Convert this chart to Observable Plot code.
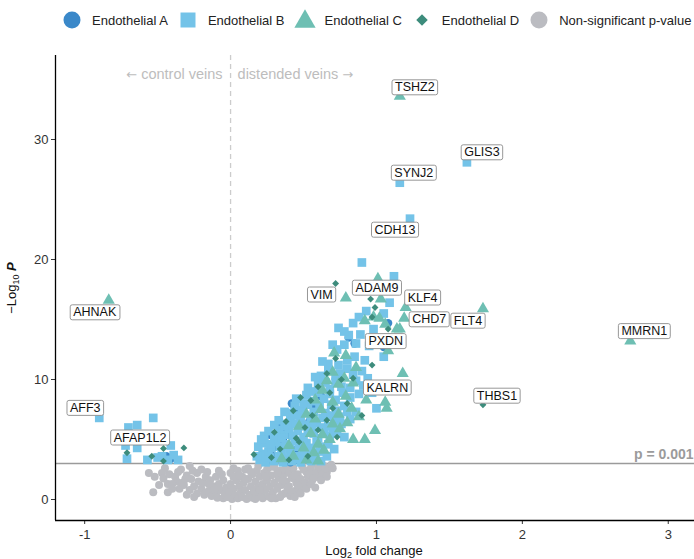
<!DOCTYPE html>
<html><head><meta charset="utf-8">
<script src="https://cdn.jsdelivr.net/npm/d3@7"></script>
<script src="https://cdn.jsdelivr.net/npm/@observablehq/plot@0.6"></script>
<style>
body{margin:0;background:#fff;font-family:"Liberation Sans",Arial,sans-serif;}
#legend{height:40px;display:flex;align-items:center;padding-left:61px;font-size:13px;color:#222;}
.item{display:flex;align-items:center;margin-right:9px;white-space:nowrap;}
.item svg{margin-right:9px;}
#chart svg{display:block;}
</style></head><body>
<div id="legend"></div>
<div id="chart"></div>
<script>
// ---------- data (log2 fold change, -log10 p) ----------
const seriesNames = ["Endothelial A","Endothelial B","Endothelial C","Endothelial D","Non-significant p-value"];
const pCutoff = 0.001;
const xTicks = [-1,0,1,2,3];
const yTicks = [0,10,20,30];

const endoA = [[-0.41,3.4],[-0.44,3.6],[0.25,3.2],[0.32,3.4],[0.41,3.1],[0.45,3.3],[0.3,4.4],[0.36,4.9],[0.44,4.1],
 [0.27,5.4],[0.4,5.4],[0.36,5.6],[0.33,6.4],[0.47,7.4],[0.54,6.5],[0.42,8.0],[0.6,9.9],[0.81,13.5],[0.85,13.0],
 [1.05,12.7],[1.08,14.7],[0.62,8.6],[0.5,4.5],[0.58,7.8],[0.29,3.6],[0.38,3.2]];

const endoB = [[-0.9,6.8],[-0.7,6.0],[-0.64,6.2],[-0.53,6.8],[-0.72,4.5],[-0.64,4.3],[-0.41,4.5],[-0.71,3.4],[-0.57,3.3],
 [-0.5,3.5],[-0.43,3.3],[-0.36,3.3],[-0.39,3.7],[-0.47,3.6],[-0.62,5.0],
 [0.2,3.3],[0.24,3.1],[0.27,3.5],[0.3,3.2],[0.33,3.6],[0.36,3.1],[0.39,3.4],[0.42,3.2],[0.45,3.6],[0.48,3.1],[0.51,3.4],
 [0.55,3.2],[0.58,3.5],[0.62,3.2],[0.22,3.8],[0.26,4.0],[0.35,3.9],[0.41,3.9],[0.5,3.8],
 [0.19,4.4],[0.23,4.7],[0.28,4.3],[0.31,4.8],[0.34,4.4],[0.38,4.6],[0.41,4.2],[0.44,4.9],[0.47,4.4],[0.52,4.7],[0.55,4.3],
 [0.59,4.8],[0.63,4.4],[0.67,4.6],[0.71,4.2],
 [0.23,5.3],[0.26,5.7],[0.3,5.2],[0.33,5.8],[0.37,5.4],[0.4,5.9],[0.43,5.3],[0.46,5.7],[0.5,5.2],[0.53,5.9],[0.57,5.5],
 [0.6,5.1],[0.64,5.7],[0.68,5.3],[0.73,5.6],[0.78,5.2],
 [0.3,6.2],[0.33,6.6],[0.37,6.1],[0.41,6.8],[0.44,6.3],[0.48,6.7],[0.52,6.2],[0.55,6.9],[0.59,6.4],[0.63,6.8],[0.67,6.1],
 [0.71,6.6],[0.76,6.3],[0.82,6.7],
 [0.37,7.3],[0.41,7.2],[0.44,7.8],[0.49,7.4],[0.53,7.9],[0.57,7.3],[0.61,7.7],[0.65,7.2],[0.69,7.9],[0.73,7.4],[0.78,7.8],
 [1.0,7.6],[0.86,7.3],
 [0.45,8.4],[0.52,8.7],[0.56,8.2],[0.6,8.9],[0.64,8.4],[0.68,8.8],[0.72,8.3],[0.77,8.9],[0.82,8.5],[0.88,8.8],[0.97,8.9],
 [0.53,9.3],[0.6,9.6],[0.65,9.75],[0.68,9.2],[0.72,9.8],[0.76,9.4],[0.82,9.3],[0.86,9.9],[0.91,9.5],
 [0.62,10.3],[0.67,10.8],[0.72,10.3],[0.75,10.5],[0.8,10.9],[0.84,10.4],[0.9,10.7],
 [0.67,11.3],[0.74,11.2],[0.8,11.6],[0.92,11.6],[1.05,11.9],[0.85,11.9],
 [0.73,12.5],[0.78,12.9],[0.86,13.0],[0.81,13.7],[0.89,13.75],[0.95,12.8],[0.74,14.3],[0.98,14.2],
 [0.84,14.7],[0.93,15.7],[1.09,16.4],[1.12,18.6],[0.9,19.75],[1.05,15.5],
 [0.27,4.6],[0.35,5.1],[0.46,3.4],[0.54,4.0],[0.61,4.0],[0.66,3.6],[0.49,6.1],[0.56,6.1],[0.62,6.0],[0.69,7.0],
 [0.58,10.2],[0.63,11.5],[0.7,12.9],[0.78,14.0],[0.88,15.2],[1.0,13.4],[0.94,10.1],[0.21,5.0],[0.18,3.6],[0.39,6.3],
 [0.5,8.0],[0.57,9.0],[0.46,7.0],[0.7,5.8],[0.75,6.9],[0.8,7.3],
 [1.62,28.1],[1.16,26.4],[1.23,23.4]];

const endoC = [[-0.835,16.6],[0.35,3.4],[0.43,3.6],[0.52,3.3],[0.6,3.2],[0.57,3.9],[0.64,4.1],[0.4,4.5],[0.5,4.3],[0.6,4.6],
 [0.68,5.0],[0.84,5.0],[0.92,5.0],[0.99,5.75],[0.55,5.5],[0.63,5.4],[0.75,5.9],[0.47,6.1],[0.58,6.7],[0.7,6.3],[0.8,6.4],
 [0.88,6.9],[0.52,7.1],[0.62,7.5],[0.74,7.1],[0.83,7.6],[1.06,8.1],[1.07,7.6],[0.58,8.3],[0.7,8.1],[0.79,8.6],[0.93,8.3],
 [0.63,9.1],[0.74,9.6],[0.84,9.7],[0.66,9.9],[0.7,10.6],[0.78,10.1],[0.86,11.0],[0.79,12.0],[0.71,12.2],[1.08,12.4],
 [1.18,10.5],[0.79,16.8],[1.01,18.4],[1.03,16.7],[1.2,16.0],[0.92,14.9],[0.98,15.2],[1.02,15.1],[1.19,15.1],[1.14,14.2],
 [1.16,14.2],[1.06,14.6],[1.16,33.6],[1.73,15.9],[2.74,13.2]];

const endoD = [[-0.71,3.9],[-0.54,3.6],[-0.46,4.25],[-0.32,4.3],[-0.46,3.2],
 [0.16,3.75],[0.28,3.5],[0.34,4.2],[0.4,3.3],[0.47,4.8],[0.53,3.6],[0.3,5.6],[0.45,5.1],[0.6,5.8],[0.38,6.5],[0.51,6.0],
 [0.66,6.6],[0.43,7.4],[0.56,7.0],[0.7,7.6],[0.48,8.5],[0.55,8.25],[0.68,8.9],[0.8,8.0],[0.6,9.4],[0.76,10.0],[0.66,10.5],
 [0.84,10.1],[0.72,11.75],[0.97,11.2],[1.08,14.2],[0.97,15.2],[0.99,16.0],[0.96,16.7],[0.72,18.0],[0.9,7.0],[0.73,5.2],
 [1.73,7.9]];

const nonSig = [[-0.56,2.2],[-0.53,0.6],[-0.47,2.2],[-0.46,1.75],[-0.43,1.3],[-0.43,0.6],[-0.42,2.1],[-0.38,1.9],[-0.37,1.5],
 [-0.35,0.9],[-0.33,1.4],[-0.32,1.2],[-0.3,2.0],[-0.28,2.8],[-0.28,0.8],[-0.27,1.7],[-0.25,1.1],[-0.23,2.2],[-0.23,0.5],
 [-0.22,1.5],[-0.2,0.9],[-0.19,1.4],[-0.18,0.4],[-0.17,1.9],[-0.15,0.7],[-0.14,1.6],[-0.13,0.3],[-0.12,1.1],[-0.1,1.9],
 [-0.1,0.5],[-0.09,0.15],[-0.08,1.3],[-0.07,0.8],[-0.05,0.1],[-0.05,1.6],[-0.04,0.4],[-0.03,1.0],[-0.02,0.2],[-0.01,0.6],
 [0,2.2],[0.0,1.3],[0.01,0.05],[0.02,2.6],[0.02,0.9],[0.03,0.35],[0.04,1.6],[0.05,2.4],[0.05,0.1],[0.06,1.1],[0.07,0.6],
 [0.08,1.9],[0.08,0.2],[0.09,1.4],[0.1,2.5],[0.1,0.8],[0.11,0.05],[0.12,1.7],[0.12,2.6],[0.13,0.4],[0.14,1.1],[0.15,2.1],
 [0.15,0.15],[0.16,0.7],[0.17,1.5],[0.18,2.4],[0.18,0.3],[0.19,2.8],[0.19,1.0],[0.2,1.9],[0.21,0.5],[0.22,1.3],[0.22,0.1],
 [0.23,2.2],[0.24,0.8],[0.25,2.5],[0.25,1.6],[0.26,0.25],[0.27,1.1],[0.28,2.0],[0.29,0.6],[0.3,2.7],[0.3,1.4],[0.31,0.1],
 [0.32,0.9],[0.33,1.8],[0.34,2.4],[0.35,0.4],[0.35,1.2],[0.36,2.0],[0.37,2.5],[0.37,0.5],[0.38,1.5],[0.39,0.8],[0.4,2.2],
 [0.4,1.1],[0.41,0.3],[0.42,1.8],[0.43,2.6],[0.44,0.7],[0.45,1.4],[0.46,2.1],[0.47,0.8],[0.48,1.7],[0.49,2.8],[0.5,1.1],
 [0.51,1.4],[0.52,2.3],[0.53,1.9],[0.55,2.6],[0.56,1.6],[0.58,2.2],[0.59,3.0],[0.6,1.9],[0.62,2.5],[0.64,2.8],[0.66,2.3],
 [0.69,2.9],[0.02,1.9],[0.06,2.0],[0.1,1.7],[0.14,2.3],[0.17,0.05],[0.2,0.8],[0.24,1.9],[0.27,2.7],[0.28,0.1],[0.32,2.2],
 [0.34,0.2],[0.36,1.6],[0.39,2.8],[0.42,0.6],[0.44,2.0],[0.46,1.2],[0.5,2.5],[0.54,2.1],[0.57,1.8],[0.6,2.7],[0.63,2.1],
 [0.65,2.6],[0.7,2.6],[0.48,0.5],[-0.06,2.1],[-0.11,0.9],[-0.15,1.3],[-0.2,2.5],[-0.26,2.4],[-0.31,1.7],[-0.34,2.5],
 [-0.4,1.3],[-0.49,1.2],[-0.52,1.9],[-0.45,2.6],[-0.4,0.9],[-0.36,2.3],[-0.3,0.4],[-0.25,0.2],[-0.16,2.3],[-0.08,2.4],
 [0.52,0.9],[0.55,1.3],[0.58,1.0],[0.62,1.6],[0.66,1.9],[0.44,0.2]];

const labelGenes = ["TSHZ2","GLIS3","SYNJ2","CDH13","VIM","ADAM9","KLF4","CHD7","FLT4","PXDN","KALRN","MMRN1","THBS1","AHNAK","AFF3","AFAP1L2"];
const labelFC    = [1.16,1.62,1.16,1.23,0.72,1.01,1.2,1.19,1.73,1.05,0.91,2.74,1.73,-0.835,-0.9,-0.62];
const labelLogP  = [33.6,28.1,26.4,23.4,18.0,18.4,16.0,15.1,15.9,12.7,9.5,13.2,7.9,16.6,6.8,5.0];
const sideNotes  = ["control veins","distended veins"];

// ---------- layout / style (not data) ----------
const labelNudge = {TSHZ2:[15,-9],GLIS3:[15,-10],SYNJ2:[14,-10],CDH13:[-15,11],VIM:[-14,11],ADAM9:[-1,9],
  KLF4:[17,-10],CHD7:[25,1],FLT4:[-15,12],PXDN:[2,-6],KALRN:[24,2],MMRN1:[14,-10],THBS1:[14,-9],
  AHNAK:[-14,12],AFF3:[-14,-10],AFAP1L2:[0,-2]};
const styles = [
  {symbol:"circle",  fill:"#3a88c9", r:4.2, legend:d3.symbolCircle,   lsize:227},
  {symbol:"square",  fill:"#74c3e8", r:4.9, legend:d3.symbolSquare,   lsize:225},
  {symbol:"triangle",fill:"#6ebfb3", r:4.5, legend:d3.symbolTriangle, lsize:195},
  {symbol:"diamond2",fill:"#3d8c7c", r:3.1, legend:d3.symbolDiamond2, lsize:85},
  {symbol:"circle",  fill:"#bbbcc1", r:4.0, legend:d3.symbolCircle,   lsize:227}
];
const seriesData = [endoA, endoB, endoC, endoD, nonSig];
const FONT = '"Liberation Sans", Arial, sans-serif';
const xDomain = [-1.2, 3.18], yDomain = [-1.75, 37];
const threshold = -Math.log10(pCutoff);

// ---------- legend ----------
const legend = d3.select("#legend");
seriesNames.forEach((name,i)=>{
  const it = legend.append("div").attr("class","item");
  const s = it.append("svg").attr("width",22).attr("height",22);
  s.append("path").attr("transform", styles[i].legend===d3.symbolTriangle ? "translate(11,12.5)" : "translate(11,11)")
    .attr("d", d3.symbol(styles[i].legend, styles[i].lsize)())
    .attr("fill", styles[i].fill);
  it.append("span").text(name);
});

// ---------- plot ----------
const pointMarks = [4,0,1,2,3].map(i => Plot.dot(seriesData[i], {
  x: d=>d[0], y: d=>d[1], symbol: ()=>styles[i].symbol, fill: styles[i].fill, r: styles[i].r
}));
const labelRows = labelGenes.map((g,i)=>({gene:g, fc:labelFC[i], lp:labelLogP[i]}));
const labelMarks = labelRows.map(row => Plot.text([row], {
  x:"fc", y:"lp", text:"gene", dx:labelNudge[row.gene][0], dy:labelNudge[row.gene][1],
  fontSize:12.5, fill:"#111", textAnchor:"middle", lineAnchor:"middle"
}));

const chart = Plot.plot({
  width:694, height:519, marginTop:15, marginBottom:39, marginLeft:55, marginRight:0,
  style:{fontFamily:FONT, fontSize:"13px", color:"#333", background:"#fff", overflow:"visible"},
  x:{domain:xDomain, label:null},
  y:{domain:yDomain, label:null},
  symbol:{type:"identity"},
  marks:[
    Plot.ruleX([0], {stroke:"#cccccc", strokeDasharray:"5,4", strokeWidth:1.3}),
    Plot.ruleY([threshold], {stroke:"#9b9b9b", strokeWidth:1.4}),
    ...pointMarks,
    Plot.text([sideNotes[0]], {x:()=>0, frameAnchor:"top", dy:13, dx:-8, textAnchor:"end", fill:"#bdbdbd", fontSize:14.5, ariaLabel:"note-left"}),
    Plot.text([sideNotes[1]], {x:()=>0, frameAnchor:"top", dy:13, dx:7, textAnchor:"start", fill:"#bdbdbd", fontSize:14.5, ariaLabel:"note-right"}),
    Plot.text(["p = " + pCutoff], {y:()=>threshold, frameAnchor:"right", dy:-9, dx:-1, textAnchor:"end", fill:"#9b9b9b", fontSize:14, fontWeight:"bold"}),
    ...labelMarks,
    Plot.axisX({ticks:xTicks, tickFormat:d=>String(d), tickSize:4, tickPadding:5, fontSize:13, fill:"#333", label:null}),
    Plot.axisY({ticks:yTicks, tickFormat:d=>String(d), tickSize:4, tickPadding:3, fontSize:13, fill:"#333", label:null}),
    Plot.ruleX([xDomain[0]], {stroke:"#000", strokeWidth:1.3}),
    Plot.ruleY([yDomain[0]], {stroke:"#000", strokeWidth:1.3})
  ]
});
document.getElementById("chart").append(chart);

// arrows on the side notes (drawn in a font with full-size arrow glyphs)
d3.select(chart).selectAll("text").each(function(){
  if (this.textContent === sideNotes[0]) {
    this.textContent = "";
    d3.select(this).append("tspan").attr("font-family","DejaVu Sans").attr("font-size",13).text("←");
    d3.select(this).append("tspan").text(" " + sideNotes[0]);
  } else if (this.textContent === sideNotes[1]) {
    this.textContent = "";
    d3.select(this).append("tspan").text(sideNotes[1] + " ");
    d3.select(this).append("tspan").attr("font-family","DejaVu Sans").attr("font-size",13).text("→");
  }
});

// boxes behind gene labels
const geneSet = new Set(labelGenes);
d3.select(chart).selectAll("text").filter(function(){ return geneSet.has(this.textContent); }).each(function(){
  const b = this.getBBox();
  const r = document.createElementNS("http://www.w3.org/2000/svg","rect");
  const t = this.getAttribute("transform");
  if (t) r.setAttribute("transform", t);
  r.setAttribute("x", b.x-3); r.setAttribute("y", b.y-0.5);
  r.setAttribute("width", b.width+6); r.setAttribute("height", b.height+1);
  r.setAttribute("rx", 2); r.setAttribute("fill", "#fff");
  r.setAttribute("stroke", "#8c8c8c"); r.setAttribute("stroke-width", 0.9);
  this.parentNode.insertBefore(r, this);
});

// axis titles with subscripts
const svg = d3.select(chart);
const yt = svg.append("text").attr("transform","translate(16,248) rotate(-90)")
  .attr("text-anchor","middle").attr("font-family",FONT).attr("font-size",13).attr("fill","#111");
yt.append("tspan").text("−Log");
yt.append("tspan").attr("font-size",9).attr("dy",3).text("10");
yt.append("tspan").attr("dy",-3).text(" ");
yt.append("tspan").attr("font-style","italic").attr("font-weight","bold").text("P");
const xt = svg.append("text").attr("transform","translate(374,515)")
  .attr("text-anchor","middle").attr("font-family",FONT).attr("font-size",13).attr("fill","#111");
xt.append("tspan").text("Log");
xt.append("tspan").attr("font-size",9).attr("dy",3).text("2");
xt.append("tspan").attr("dy",-3).text(" fold change");
</script>
</body></html>
